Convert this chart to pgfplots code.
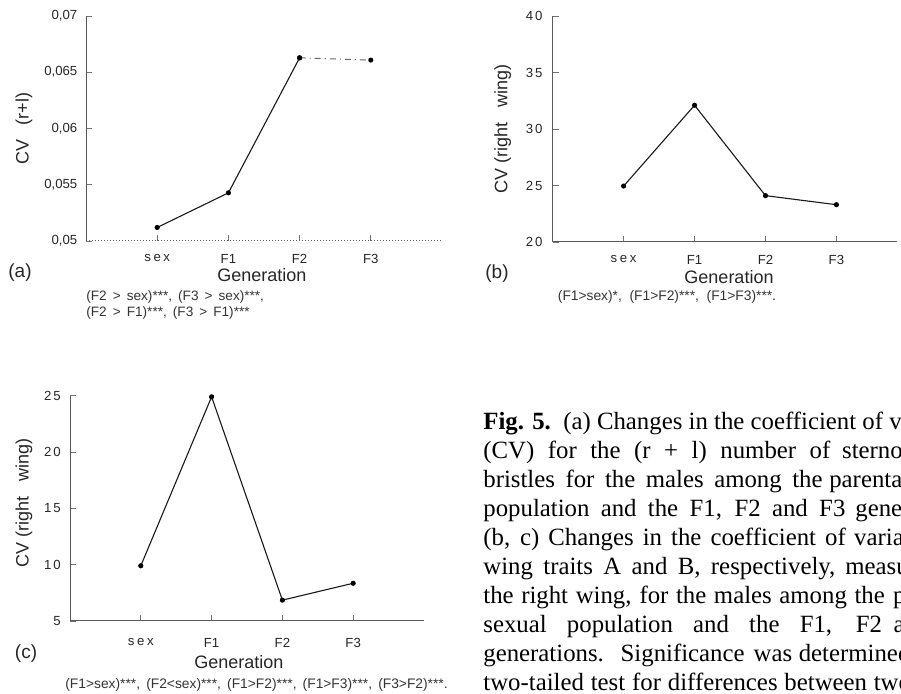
\documentclass[border=0pt]{standalone}
\usepackage{fontspec}
\setmainfont{Liberation Serif}
\newfontfamily\arial{Liberation Sans}
\usepackage{pgfplots}
\pgfplotsset{compat=1.18}
\newcommand\sx{s\hspace{0.2em}e\hspace{0.2em}x}
\newcommand\dd[2]{#1\hspace{0.14em}#2}
\pgfplotsset{
  dat/.style={black!90, line width=0.55pt, mark=*, mark size=1pt, mark options={solid, fill=black, draw=black}},
  panel/.style={
    scale only axis, anchor=south west,
    xmin=0, xmax=5,
    axis x line*=bottom, axis y line*=left,
    axis line style={black!65, line width=0.5pt, -},
    xtick={1,2,3,4},
    xticklabels={\sx, F1, F2, F3},
    tick style={black!55, line width=0.4pt},
    major tick length=3pt,
    tick align=inside,
    ticklabel style={font=\arial\fontsize{6.6}{7}\selectfont, text=black!85},
    xticklabel style={yshift=-3pt},
    label style={font=\arial\fontsize{9}{10}\selectfont, text=black!85},
    xlabel={Generation},
  }
}
\begin{document}
\begin{tikzpicture}
\useasboundingbox (0,0) rectangle (450.5pt,347pt);
\clip (0,0) rectangle (450.5pt,347pt);

% ---------- (a)
\begin{axis}[panel, at={(43pt,226.5pt)}, width=178pt, height=112.5pt,
  ymin=0.05, ymax=0.07,
  scaled y ticks=false,
  ytick={0.05,0.055,0.06,0.065,0.07},
  yticklabels={{0,05},{0,055},{0,06},{0,065},{0,07}},
  x axis line style={densely dotted},
  yticklabel style={xshift=-0.8pt},
  xlabel style={at={(axis description cs:0.494,-0.151)}, anchor=center},
  ylabel={CV\hspace{0.8em}(r+l)},
  ylabel style={at={(axis description cs:-0.174,0.5)}, anchor=center},
]
\addplot[dat] coordinates {(1,0.0512) (2,0.05428) (3,0.06628)};
\addplot[dat, black!60, dash dot, line width=0.5pt] coordinates {(3,0.06628) (4,0.06608)};
\end{axis}
\node[font=\arial\fontsize{9.5}{10}\selectfont, text=black!85] at (10pt,210.5pt) {(a)};
\node[anchor=west, inner sep=0pt, font=\arial\fontsize{6.8}{7}\selectfont, text=black!80] at (43pt,198.3pt) {(F2 \,>\, sex)***, \,(F3 \,>\, sex)***,};
\node[anchor=west, inner sep=0pt, font=\arial\fontsize{6.8}{7}\selectfont, text=black!80] at (43pt,190.3pt) {(F2 \,>\, F1)***, \,(F3 \,>\, F1)***};

% ---------- (b)
\begin{axis}[panel, at={(276.35pt,226pt)}, width=172pt, height=113pt,
  xmax=4.85,
  ymin=20, ymax=40,
  ytick={20,25,30,35,40},
  yticklabels={\dd20,\dd25,\dd30,\dd35,\dd40},
  yticklabel style={xshift=-1.6pt},
  xlabel style={at={(axis description cs:0.5125,-0.155)}, anchor=center},
  ylabel={CV (right\hspace{0.8em}wing)},
  ylabel style={at={(axis description cs:-0.145,0.5)}, anchor=center},
]
\addplot[dat] coordinates {(1,24.95) (2,32.1) (3,24.1) (4,23.3)};
\end{axis}
\node[font=\arial\fontsize{9.5}{10}\selectfont, text=black!85] at (248.5pt,210pt) {(b)};
\node[inner sep=0pt, font=\arial\fontsize{6.9}{7}\selectfont, text=black!80] at (333.5pt,198.5pt) {(F1>sex)*,\ \ (F1>F2)***,\ \ (F1>F3)***.};

% ---------- (c)
\begin{axis}[panel, at={(35pt,36.5pt)}, width=177pt, height=112.65pt,
  ymin=5, ymax=25,
  ytick={5,10,15,20,25},
  yticklabels={5,\dd10,\dd15,\dd20,\dd25},
  yticklabel style={xshift=-1.1pt},
  xticklabel style={yshift=-2pt},
  xlabel style={at={(axis description cs:0.477,-0.182)}, anchor=center},
  ylabel={CV (right\hspace{0.8em}wing)},
  ylabel style={at={(axis description cs:-0.13,0.524)}, anchor=center},
]
\addplot[dat] coordinates {(1,9.9) (2,24.9) (3,6.85) (4,8.35)};
\end{axis}
\node[font=\arial\fontsize{9.5}{10}\selectfont, text=black!85] at (13pt,20pt) {(c)};
\node[anchor=west, inner sep=0pt, font=\arial\fontsize{6.9}{7}\selectfont, text=black!80] at (32.5pt,4.5pt) {(F1>sex)***, \,(F2<sex)***, \,(F1>F2)***, \,(F1>F3)***, \,(F3>F2)***.};

% ---------- caption
\begin{scope}[every node/.style={anchor=base west, inner sep=0pt, font=\fontsize{12.4}{14}\selectfont}]
\node at (241.5pt,132pt) {\textbf{Fig. 5.}\hspace{0.5em}(a) Changes in the coefficient of variation};
\node at (241.5pt,117.5pt) {\makebox[173.5pt][s]{(CV) for the (r + l) number of}\hspace{5.85pt}sternopleural};
\node at (241.5pt,103.1pt) {\makebox[169.6pt][s]{bristles for the males among the}\hspace{3.35pt}parental sexual};
\node at (241.5pt,88.6pt) {\makebox[181pt][s]{population and the F1, F2 and F3}\hspace{5pt}generations.};
\node at (241.5pt,74.1pt) {\makebox[181.2pt][s]{(b, c) Changes in the coefficient of}\hspace{4.2pt}variation of};
\node at (241.5pt,59.7pt) {\makebox[176pt][s]{wing traits A and B, respectively,}\hspace{5pt}measured on};
\node at (241.5pt,45.2pt) {\makebox[200.7pt][s]{the right wing, for the males among the}\hspace{4.2pt}parental};
\node at (241.5pt,30.7pt) {\makebox[199.3pt][s]{sexual population and the F1, F2}\hspace{5.8pt}and F3};
\node at (241.5pt,16.3pt) {\makebox[154.4pt][s]{generations. Significance was}\hspace{3.3pt}determined by a};
\node at (241.5pt,1.8pt) {\makebox[191.85pt][s]{two-tailed test for differences between}\hspace{3.3pt}two CVs};
\end{scope}
\end{tikzpicture}
\end{document}
